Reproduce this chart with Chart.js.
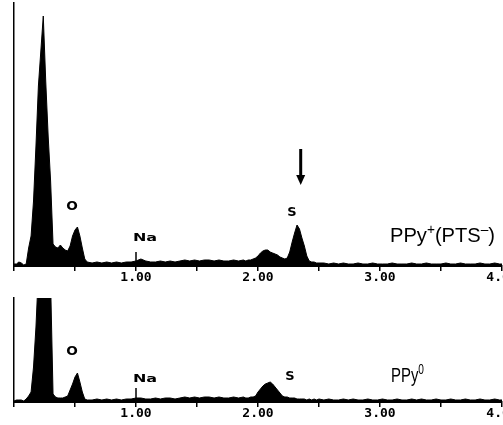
<!DOCTYPE html>
<html>
<head>
<meta charset="utf-8">
<script src="https://cdn.jsdelivr.net/npm/chart.js@4/dist/chart.umd.min.js"></script>
<style>
  html, body { margin: 0; padding: 0; background: #fff; overflow: hidden; width: 503px; height: 425px; }
  canvas { position: absolute; left: 0; }
  #haut { top: 0; }
  #bas { top: 290px; }
</style>
</head>
<body>
<canvas id="haut" width="540" height="290"></canvas>
<canvas id="bas" width="540" height="135"></canvas>
<script>
// energie (keV) - grille commune aux deux spectres
var energie = [
  0.00, 0.02, 0.04, 0.06, 0.08, 0.10, 0.12, 0.14, 0.16, 0.18, 0.20, 0.22, 0.24, 0.26, 0.28, 0.30,
  0.32, 0.34, 0.36, 0.38, 0.40, 0.42, 0.44, 0.46, 0.48, 0.50, 0.52, 0.54, 0.56, 0.58, 0.60,
  0.64, 0.68, 0.72, 0.76, 0.80, 0.84, 0.88, 0.92, 0.96, 1.00, 1.04, 1.08, 1.12, 1.16, 1.20, 1.24,
  1.28, 1.32, 1.36, 1.40, 1.44, 1.48, 1.52, 1.56, 1.60, 1.64, 1.68, 1.72, 1.76, 1.80, 1.84, 1.88,
  1.90, 1.92, 1.94, 1.96, 1.98, 2.00, 2.02, 2.04, 2.06, 2.08, 2.10, 2.12, 2.14, 2.16, 2.18, 2.20,
  2.22, 2.24, 2.26, 2.28, 2.30, 2.32, 2.34, 2.36, 2.38, 2.40, 2.42, 2.44, 2.46, 2.48, 2.50,
  2.54, 2.58, 2.62, 2.66, 2.70, 2.74, 2.78, 2.82, 2.86, 2.90, 2.94, 2.98, 3.02, 3.06, 3.10, 3.14,
  3.18, 3.22, 3.26, 3.30, 3.34, 3.38, 3.42, 3.46, 3.50, 3.54, 3.58, 3.62, 3.66, 3.70, 3.74, 3.78,
  3.82, 3.86, 3.90, 3.94, 3.98, 4.00
];

// PPy+(PTS-) : coups
var comptesDope = [
  2, 2, 4, 3, 1, 2, 18, 30, 65, 120, 180, 215, 250, 185, 130, 85,
  22, 19, 18, 21, 18, 16, 15, 20, 30, 36, 39, 30, 18, 7, 4,
  3, 4, 3, 4, 3, 4, 3, 4, 4, 5, 7, 5, 4, 4, 5, 4,
  5, 4, 5, 6, 5, 6, 5, 6, 6, 5, 6, 5, 5, 6, 5, 6,
  5, 6, 6, 7, 8, 10, 13, 15, 16, 16, 14, 13, 12, 11, 9, 8,
  7, 8, 14, 24, 33, 41, 37, 28, 20, 10, 5, 4, 4, 3, 3,
  3, 2, 3, 2, 3, 2, 2, 3, 2, 2, 3, 2, 2, 2, 3, 2,
  2, 2, 3, 2, 2, 3, 2, 2, 2, 3, 2, 2, 3, 2, 2, 2,
  3, 2, 2, 3, 2, 2
];

// PPy0 : coups
var comptesNeutre = [
  1, 2, 2, 2, 1, 3, 6, 10, 35, 75, 130, 200, 260, 230, 170, 120,
  8, 5, 4, 4, 4, 5, 6, 12, 18, 25, 29, 20, 10, 3, 2,
  2, 3, 2, 3, 2, 3, 2, 3, 3, 4, 4, 3, 3, 4, 3, 4,
  4, 3, 4, 5, 4, 5, 4, 5, 5, 4, 5, 4, 4, 5, 4, 5,
  4, 4, 5, 5, 6, 10, 13, 16, 18, 19, 20, 18, 15, 12, 9, 6,
  5, 5, 4, 4, 4, 3, 3, 3, 3, 2, 3, 2, 3, 2, 3,
  2, 3, 2, 2, 3, 2, 3, 2, 2, 3, 2, 2, 3, 2, 2, 3,
  2, 2, 3, 2, 3, 2, 2, 3, 2, 2, 3, 2, 2, 3, 2, 2,
  3, 2, 2, 3, 2, 2
];

// etiquettes des pics (energie, hauteur en coups)
var picsDope = [
  { t: 'O', e: 0.475, c: 59, taille: 13, sx: 1.05 },
  { t: 'Na', e: 1.074, c: 28, taille: 10, sx: 1.6 },
  { t: 'S', e: 2.279, c: 53, taille: 13, sx: 1 }
];
var picsNeutre = [
  { t: 'O', e: 0.475, c: 50, taille: 13, sx: 1.05 },
  { t: 'Na', e: 1.074, c: 23, taille: 10, sx: 1.6 },
  { t: 'S', e: 2.262, c: 25, taille: 13, sx: 1 }
];
// raie du sodium marquee sur l'axe
var raieNa = 1.0;
var nomDope = [{ t: 'PPy' }, { t: '+', sup: true }, { t: '(PTS' }, { t: '\u2013', sup: true }, { t: ')' }];
var nomNeutre = [{ t: 'PPy' }, { t: '0', sup: true }];

//-------------------------------------------- plugin d'annotations --------------------------------------------

var notesPlugin = {
    id: 'notes',
    afterDraw: function (chart, args, opts) {
        var ctx = chart.ctx;
        var xs = chart.scales.x, ys = chart.scales.y;
        ctx.save();
        ctx.fillStyle = '#000';
        ctx.strokeStyle = '#000';
        ctx.textAlign = 'center';
        ctx.textBaseline = 'middle';
        (opts.pics || []).forEach(function (p) {
            ctx.save();
            ctx.translate(xs.getPixelForValue(p.e), ys.getPixelForValue(p.c));
            ctx.scale(p.sx, 1);
            ctx.font = 'bold ' + p.taille + 'px "DejaVu Sans"';
            ctx.fillText(p.t, 0, 0);
            ctx.restore();
        });

        if (opts.raie) {
            var xr = xs.getPixelForValue(opts.raie.e);
            ctx.lineWidth = 1.5;
            ctx.beginPath();
            ctx.moveTo(xr, ys.getPixelForValue(0));
            ctx.lineTo(xr, ys.getPixelForValue(opts.raie.c));
            ctx.stroke();
        }

        if (opts.nom) {
            var n = opts.nom;
            var taille = 21;
            var largeur = 0;
            n.parts.forEach(function (q) {
                ctx.font = (q.sup ? taille * 0.68 : taille) + 'px "Liberation Sans"';
                largeur += ctx.measureText(q.t).width;
            });
            ctx.save();
            ctx.translate(xs.getPixelForValue(n.e), ys.getPixelForValue(n.c));
            ctx.scale(n.largeur / largeur, 1);
            ctx.textAlign = 'left';
            ctx.textBaseline = 'alphabetic';
            var cx = 0;
            n.parts.forEach(function (q) {
                ctx.font = (q.sup ? taille * 0.68 : taille) + 'px "Liberation Sans"';
                ctx.fillText(q.t, cx, q.sup ? -taille * 0.36 : 0);
                cx += ctx.measureText(q.t).width;
            });
            ctx.restore();
        }

        if (opts.fleche) {
            var f = opts.fleche;
            var x = xs.getPixelForValue(f.e);
            var y1 = ys.getPixelForValue(f.de), y2 = ys.getPixelForValue(f.a);
            ctx.lineWidth = 3;
            ctx.beginPath();
            ctx.moveTo(x, y1);
            ctx.lineTo(x, y2 - 8);
            ctx.stroke();
            ctx.beginPath();
            ctx.moveTo(x - 4.5, y2 - 10);
            ctx.lineTo(x + 4.5, y2 - 10);
            ctx.lineTo(x, y2);
            ctx.closePath();
            ctx.fill();
        }
        ctx.restore();
    }
};

//-------------------------------------------- construction d'un spectre --------------------------------------------

function Spectre(id, comptes, yMax, hautPad, hautAxe, notes) {
    var points = [];
    for (var i = 0; i < energie.length; i++) {
        points.push({ x: energie[i], y: comptes[i] });
    }
    return new Chart(document.getElementById(id), {
        type: 'line',
        data: {
            datasets: [{
                data: points,
                borderColor: '#000',
                backgroundColor: '#000',
                borderWidth: 1,
                fill: 'origin',
                pointRadius: 0,
                tension: 0
            }]
        },
        plugins: [notesPlugin],
        options: {
            responsive: false,
            animation: false,
            layout: { padding: { left: 14, right: 38, top: hautPad, bottom: 0 } },
            plugins: {
                legend: { display: false },
                tooltip: { enabled: false },
                notes: notes
            },
            scales: {
                x: {
                    type: 'linear',
                    min: 0,
                    max: 4,
                    afterFit: function (s) { s.height = hautAxe; },
                    grid: { drawOnChartArea: false, color: '#000', lineWidth: 1.5, tickLength: 5 },
                    border: { color: '#000', width: 2 },
                    ticks: {
                        stepSize: 0.5,
                        autoSkip: false,
                        maxRotation: 0,
                        padding: 0,
                        color: '#000',
                        font: { family: '"DejaVu Sans Mono"', weight: 'bold', size: 13, lineHeight: 1 },
                        callback: function (v) {
                            return (v > 0 && v % 1 === 0) ? v.toFixed(2) : '';
                        }
                    }
                },
                y: {
                    min: 0,
                    max: yMax,
                    afterFit: function (s) { s.width = 0; },
                    grid: { display: false },
                    border: { color: '#000', width: 1.5 },
                    ticks: { display: false }
                }
            }
        }
    });
}

Spectre('haut', comptesDope, 263, 3, 24, {
    pics: picsDope,
    raie: { e: raieNa, c: 14 },
    nom: { parts: nomDope, e: 3.082, c: 24, largeur: 105 },
    fleche: { e: 2.35, de: 117, a: 81 }
});

Spectre('bas', comptesNeutre, 104, 8, 23, {
    pics: picsNeutre,
    raie: { e: raieNa, c: 14 },
    nom: { parts: nomNeutre, e: 3.09, c: 20, largeur: 33 }
});
</script>
</body>
</html>
